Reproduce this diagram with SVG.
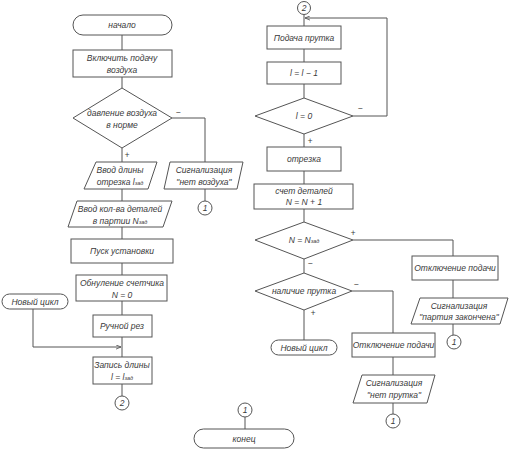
<svg xmlns="http://www.w3.org/2000/svg" width="513" height="450" viewBox="0 0 513 450">
<defs>
<style>
.s{fill:#fff;stroke:#555;stroke-width:1}
.c{fill:none;stroke:#555;stroke-width:1}
text{font-family:"Liberation Sans",Arial,sans-serif;font-style:italic;font-size:8.5px;fill:#3a3a3a;text-anchor:middle}
.sub{font-size:5.5px}
</style>
<marker id="a" viewBox="0 0 6 6" refX="6" refY="3" markerWidth="5" markerHeight="5" orient="auto"><path d="M0,0.5 L6,3 L0,5.5" fill="none" stroke="#555" stroke-width="1"/></marker>
</defs>
<rect width="513" height="450" fill="#fff"/>
<g id="connectors">
<path class="c" d="M122,35V50M122,77V88M122,148V162M172,118H205V162M205,189V201M122,189V201M122,227V239M122,263V275M122,301V315M122,337V357M122,384V396"/>
<path class="c" d="M33,309V347H121" marker-end="url(#a)"/>
<path class="c" d="M304,14.5V26M304,49V62M304,84V98M304,134V147M304,171V184M304,209V222M304,259V273M353,240H453V256M453,280V298M453,324V335M352,291H393V333M393,357V375M393,403V414M304,310V340M245,417V429"/>
<path class="c" d="M353,116H387V18H305" marker-end="url(#a)"/>
</g>
<g id="labels">
<text x="178" y="115">−</text>
<text x="127" y="158">+</text>
<text x="360" y="111">−</text>
<text x="310" y="144">+</text>
<text x="353" y="236">+</text>
<text x="310" y="266">−</text>
<text x="356" y="287">−</text>
<text x="313" y="316">+</text>
</g>
<g id="start"><rect class="s" x="73" y="15" width="99" height="20" rx="10"/><text x="122" y="28">начало</text></g>
<g id="air-on"><rect class="s" x="73" y="50" width="99" height="27"/><text x="122" y="61">Включить подачу</text><text x="122" y="73">воздуха</text></g>
<g id="air-check"><polygon class="s" points="122,88 172,118 122,148 73,118"/><text x="122" y="116">давление воздуха</text><text x="122" y="128">в норме</text></g>
<g id="len-in"><polygon class="s" points="96,162 157,162 148,189 84,189"/><text x="120" y="173">Ввод длины</text><text x="120" y="185">отрезка l<tspan class="sub">зад</tspan></text></g>
<g id="no-air"><polygon class="s" points="170,162 243,162 237,189 164,189"/><text x="204" y="173">Сигнализация</text><text x="204" y="185">"нет воздуха"</text></g>
<g id="c1a"><circle class="s" cx="205" cy="208" r="7"/><text x="205" y="211">1</text></g>
<g id="qty-in"><polygon class="s" points="77,201 172,201 163,227 68,227"/><text x="120" y="212">Ввод кол-ва деталей</text><text x="120" y="224">в партии N<tspan class="sub">зад</tspan></text></g>
<g id="launch"><rect class="s" x="71" y="239" width="102" height="24"/><text x="122" y="254">Пуск установки</text></g>
<g id="reset"><rect class="s" x="76" y="275" width="91" height="26"/><text x="122" y="286">Обнуление счетчика</text><text x="122" y="298">N = 0</text></g>
<g id="manual"><rect class="s" x="93" y="315" width="59" height="22"/><text x="122" y="329">Ручной рез</text></g>
<g id="new-cycle-l"><rect class="s" x="2" y="294" width="66" height="15" rx="7.5"/><text x="35" y="305">Новый цикл</text></g>
<g id="write-len"><rect class="s" x="93" y="357" width="59" height="27"/><text x="122" y="368">Запись длины</text><text x="122" y="380">l = l<tspan class="sub">зад</tspan></text></g>
<g id="c2a"><circle class="s" cx="122" cy="403" r="7"/><text x="122" y="406">2</text></g>
<g id="c2b"><circle class="s" cx="304" cy="8" r="6.5"/><text x="304" y="11">2</text></g>
<g id="feed"><rect class="s" x="267" y="26" width="74" height="23"/><text x="304" y="41">Подача прутка</text></g>
<g id="dec"><rect class="s" x="267" y="62" width="74" height="22"/><text x="304" y="76">l = l − 1</text></g>
<g id="l-zero"><polygon class="s" points="304,98 353,116 304,134 255,116"/><text x="304" y="119">l = 0</text></g>
<g id="cut"><rect class="s" x="267" y="147" width="74" height="24"/><text x="304" y="162">отрезка</text></g>
<g id="count"><rect class="s" x="254" y="184" width="99" height="25"/><text x="304" y="194">счет деталей</text><text x="304" y="205">N = N + 1</text></g>
<g id="n-check"><polygon class="s" points="304,222 353,240 304,259 255,240"/><text x="304" y="243">N = N<tspan class="sub">зад</tspan></text></g>
<g id="bar-check"><polygon class="s" points="304,273 352,291 304,310 255,291"/><text x="304" y="294">наличие прутка</text></g>
<g id="new-cycle-r"><rect class="s" x="271" y="340" width="66" height="15" rx="7.5"/><text x="304" y="351">Новый цикл</text></g>
<g id="off1"><rect class="s" x="412" y="256" width="86" height="24"/><text x="455" y="271">Отключение подачи</text></g>
<g id="batch-done"><polygon class="s" points="420,298 508,298 500,324 411,324"/><text x="459" y="309">Сигнализация</text><text x="459" y="320">"партия закончена"</text></g>
<g id="c1b"><circle class="s" cx="454" cy="342" r="7"/><text x="454" y="345">1</text></g>
<g id="off2"><rect class="s" x="352" y="333" width="83" height="24"/><text x="393.5" y="348">Отключение подачи</text></g>
<g id="no-bar"><polygon class="s" points="362,375 435,375 427,403 353,403"/><text x="394" y="386">Сигнализация</text><text x="394" y="398">"нет прутка"</text></g>
<g id="c1c"><circle class="s" cx="393" cy="421" r="7"/><text x="393" y="424">1</text></g>
<g id="c1d"><circle class="s" cx="245" cy="410" r="7"/><text x="245" y="413">1</text></g>
<g id="end"><rect class="s" x="194" y="429" width="100" height="19" rx="9.5"/><text x="244" y="442">конец</text></g>
</svg>
